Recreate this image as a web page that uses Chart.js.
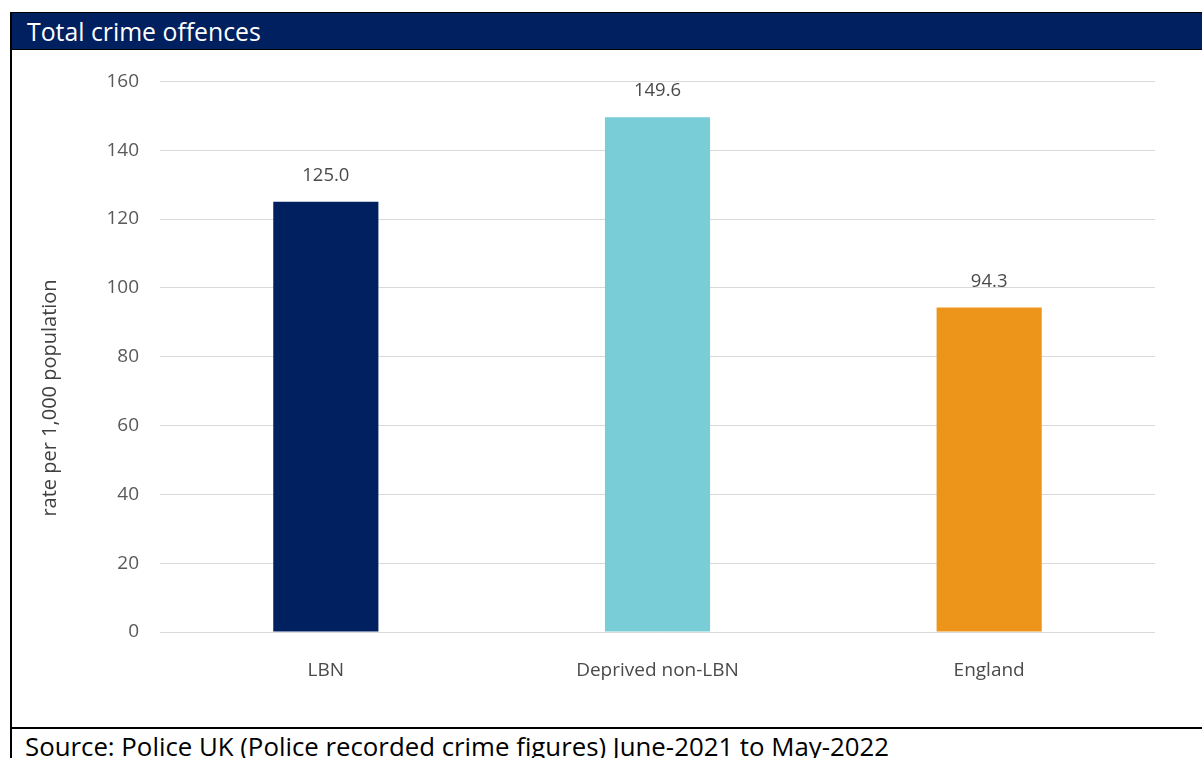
<!DOCTYPE html>
<html>
<head>
<meta charset="utf-8">
<script src="https://cdn.jsdelivr.net/npm/chart.js@4/dist/chart.umd.min.js"></script>
<style>
  html, body { margin: 0; padding: 0; background: #fff; }
  body { width: 1202px; height: 758px; position: relative; overflow: hidden; }
  .header {
    position: absolute; left: 10px; top: 12px; width: 1192px; height: 36px;
    background: #002060; border-top: 1px solid #000; border-bottom: 1px solid #000;
    color: #fff; font-family: "Open Sans", sans-serif; font-size: 24.8px; line-height: 36px;
    box-sizing: content-box;
  }
  .header span { position: absolute; left: 17px; top: 0; }
  .left-line { position: absolute; left: 10px; top: 12px; width: 2px; height: 746px; background: #000; }
  .bottom-line { position: absolute; left: 10px; top: 727px; width: 1192px; height: 2px; background: #000; }
  .source {
    position: absolute; left: 25px; top: 729px; font-family: "Open Sans", sans-serif;
    font-size: 25.8px; line-height: 34px; color: #000; white-space: nowrap;
  }
  #crime-chart { position: absolute; left: 14px; top: 49px; }
</style>
</head>
<body>
<div class="header"><span>Total crime offences</span></div>
<div class="left-line"></div>
<canvas id="crime-chart" width="1188" height="677"></canvas>
<div class="bottom-line"></div>
<div class="source">Source: Police UK (Police recorded crime figures) June-2021 to May-2022</div>

<script>
var categories = ['LBN', 'Deprived non-LBN', 'England'];
var rates = [125.0, 149.6, 94.3];
var barColors = ['#002060', '#78CDD7', '#EC951A'];
var yTicks = [0, 20, 40, 60, 80, 100, 120, 140, 160];
var yTitle = 'rate per 1,000 population';

var chartFont = '"Open Sans", sans-serif';

// value labels above each bar, plus the rotated y title
var valueLabels = {
    id: 'valueLabels',
    afterDatasetsDraw: function(chart) {
        var ctx = chart.ctx;
        var meta = chart.getDatasetMeta(0);
        ctx.save();
        ctx.font = '18.5px ' + chartFont;
        ctx.fillStyle = '#4a4a4a';
        ctx.textAlign = 'center';
        ctx.textBaseline = 'middle';
        meta.data.forEach(function(bar, i) {
            ctx.fillText(rates[i].toFixed(1), bar.x, bar.y - 26);
        });
        ctx.restore();

        // y title sits a bit below the middle of the axis
        ctx.save();
        ctx.font = '20px ' + chartFont;
        ctx.fillStyle = '#404040';
        ctx.textAlign = 'center';
        ctx.textBaseline = 'middle';
        ctx.translate(36, chart.chartArea.top + chart.chartArea.height * 0.575);
        ctx.rotate(-Math.PI / 2);
        ctx.fillText(yTitle, 0, 0);
        ctx.restore();
    }
};

function initCrimeChart() {
    const canvas = document.getElementById('crime-chart');

    var data = {
        labels: categories,
        datasets: [{
            label: '',
            data: rates,
            backgroundColor: barColors,
            barPercentage: 0.317,
            categoryPercentage: 1
        }]
    };

    new Chart(canvas, {
        type: 'bar',
        data: data,
        options: {
            responsive: false,
            animation: false,
            layout: {padding: {left: 22, top: 26, right: 47, bottom: 0}},
            plugins: {
                legend: {display: false},
                tooltip: {enabled: false}
            },
            scales: {
                y: {
                    min: yTicks[0],
                    max: yTicks[yTicks.length - 1],
                    afterBuildTicks: function(axis) {
                        axis.ticks = yTicks.map(function(v) { return {value: v}; });
                    },
                    afterFit: function(axis) { axis.width = 124; },
                    ticks: {
                        color: '#595959',
                        font: {family: chartFont, size: 19},
                        padding: 21
                    },
                    grid: {color: '#d9d9d9', lineWidth: 1, drawTicks: false},
                    border: {display: false}
                },
                x: {
                    afterFit: function(axis) { axis.height = 94; },
                    ticks: {
                        color: '#4a4a4a',
                        font: {family: chartFont, size: 19},
                        padding: 19
                    },
                    grid: {display: false},
                    border: {display: false}
                }
            }
        },
        plugins: [valueLabels]
    });
}

document.addEventListener('DOMContentLoaded', initCrimeChart);
</script>
</body>
</html>
